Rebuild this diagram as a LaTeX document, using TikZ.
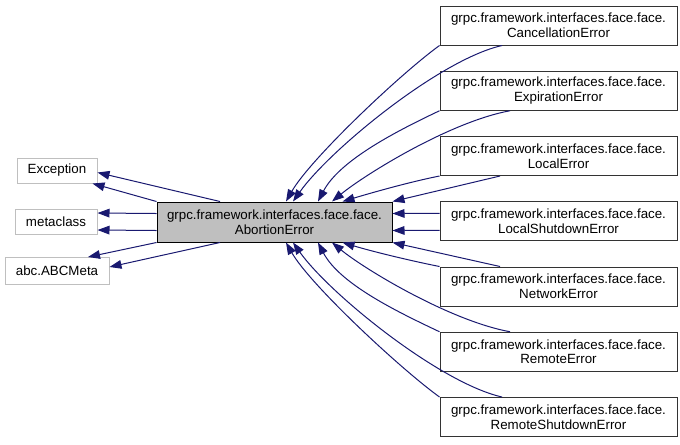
\documentclass[tikz,border=0pt]{standalone}
\usepackage{fontspec}
\setmainfont{Liberation Sans}
\usetikzlibrary{arrows.meta,calc}
\definecolor{edgeblue}{RGB}{25,25,112}
\definecolor{boxgray}{RGB}{191,191,191}
\begin{document}
\begin{tikzpicture}[x=0.75pt, y=-0.75pt, line width=0.75pt,
	every node/.style={font=\fontsize{10}{11}\selectfont, align=center, inner sep=0pt},
	extbox/.style={draw=boxgray, fill=white, minimum height=18.75pt},
	mainbox/.style={draw=black, fill=boxgray, minimum width=176.25pt, minimum height=30pt},
	subbox/.style={draw=black!80, fill=white, minimum width=177.75pt, minimum height=29.25pt},
	inh/.style={draw=edgeblue, -{Triangle[length=9pt, width=6.5pt]}}]
	\useasboundingbox (0,0) rectangle (680,444);
	
	% 1. base classes
	\node[extbox, minimum width=60pt] (exc) at (57,170.5) {Exception};
	\node[extbox, minimum width=61.5pt] (meta) at (56,221.5) {metaclass};
	\node[extbox, minimum width=78pt, minimum height=20.25pt] (abc) at (57,271) {abc.ABCMeta};
	
	% 2. the class itself
	\node[mainbox] (abort) at (274.5,222) {grpc.framework.interfaces.face.face.\\AbortionError};
	
	% 3. derived classes
	\node[subbox] (cancel) at (558.5,25.5) {grpc.framework.interfaces.face.face.\\CancellationError};
	\node[subbox] (expire) at (558.5,90.75) {grpc.framework.interfaces.face.face.\\ExpirationError};
	\node[subbox] (local) at (558.5,156) {grpc.framework.interfaces.face.face.\\LocalError};
	\node[subbox] (lshut) at (558.5,221.25) {grpc.framework.interfaces.face.face.\\LocalShutdownError};
	\node[subbox] (network) at (558.5,286.5) {grpc.framework.interfaces.face.face.\\NetworkError};
	\node[subbox] (remote) at (558.5,351.75) {grpc.framework.interfaces.face.face.\\RemoteError};
	\node[subbox] (rshut) at (558.5,417) {grpc.framework.interfaces.face.face.\\RemoteShutdownError};
	
	% 4. edges to the base classes
	\draw[inh] ($(abort.north)+(-54.5,0)$) -- ($(exc.east)+(0,2)$);
	\draw[inh] (abort.north west) -- ($(exc.south east)+(-5,0)$);
	\draw[inh] ($(abort.west)+(0,-8.5)$) -- ($(meta.east)+(0,-8.5)$);
	\draw[inh] ($(abort.west)+(0,8.5)$) -- ($(meta.east)+(0,8.5)$);
	\draw[inh] (abort.south west) -- ($(abc.north)+(31,0)$);
	\draw[inh] ($(abort.south)+(-54.5,0)$) -- ($(abc.east)+(0,-4)$);
	
	% 5. edges from the derived classes (upper half)
	\draw[inh] (cancel.south west) .. controls +(-40,29) and +(24,-42) .. ($(abort.north)+(11.5,0)$);
	\draw[inh] ($(cancel.south)+(-56.5,0)$) .. controls +(-62,14) and +(37,-52) .. ($(abort.north)+(18.5,0)$);
	\draw[inh] (expire.south west) .. controls +(-40,19) and +(22,-42) .. ($(abort.north)+(43.5,0)$);
	\draw[inh] ($(expire.south)+(-48.5,0)$) .. controls +(-60,11) and +(33,-27) .. ($(abort.north)+(57.5,0)$);
	\draw[inh] (local.south west) .. controls +(-30,6) and +(30,-9) .. ($(abort.north)+(68,0)$);
	\draw[inh] ($(local.south)+(-58.5,0)$) -- (abort.north east);
	\draw[inh] ($(lshut.west)+(0,-8)$) -- ($(abort.east)+(0,-8.5)$);
	\draw[inh] ($(lshut.west)+(0,9)$) -- ($(abort.east)+(0,8.5)$);
	
	% 6. edges from the derived classes (lower half)
	\draw[inh] ($(network.north)+(-58.5,0)$) -- (abort.south east);
	\draw[inh] (network.north west) .. controls +(-30,-6) and +(30,9) .. ($(abort.south)+(68,0)$);
	\draw[inh] ($(remote.north)+(-48.5,0)$) .. controls +(-60,-11) and +(33,27) .. ($(abort.south)+(57.5,0)$);
	\draw[inh] (remote.north west) .. controls +(-40,-19) and +(22,42) .. ($(abort.south)+(43.5,0)$);
	\draw[inh] ($(rshut.north)+(-56.5,0)$) .. controls +(-62,-14) and +(37,52) .. ($(abort.south)+(18.5,0)$);
	\draw[inh] (rshut.north west) .. controls +(-40,-29) and +(24,42) .. ($(abort.south)+(11.5,0)$);
\end{tikzpicture}
\end{document}
